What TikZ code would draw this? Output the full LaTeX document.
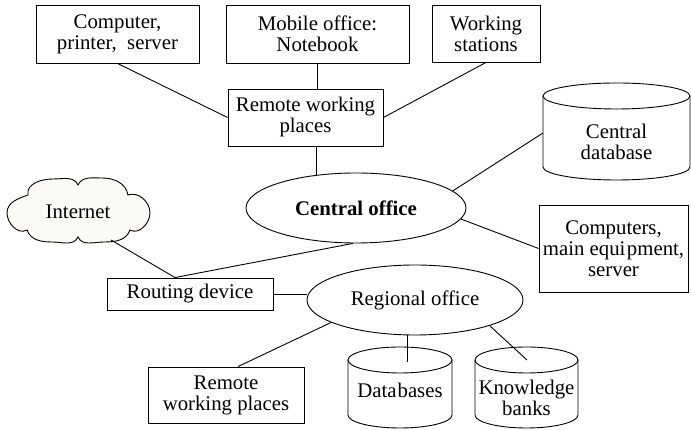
\documentclass[tikz,border=0pt]{standalone}
\usepackage{fontspec}
\setmainfont{Liberation Serif}
\usetikzlibrary{shapes.geometric,calc}
\begin{document}
\begin{tikzpicture}[x=1pt,y=1pt,line width=0.9pt,
  txt/.style={font=\fontsize{20.8}{21}\selectfont},
  box/.style={draw,rectangle,align=center,inner sep=0pt,txt},
  oval/.style={draw,ellipse,align=center,inner sep=0pt,txt},
  lbl/.style={align=center,inner sep=0pt,txt},
  conn/.style={line width=0.9pt}]
\useasboundingbox (0,0) rectangle (691,430);
% top boxes
\node[box,minimum width=163,minimum height=58] (b1) at (117.5,396) {Computer,\\printer,\ \ server};
\node[box,minimum width=183,minimum height=58] (b2) at (317.5,396) {Mobile office:\\Notebook};
\node[box,minimum width=108,minimum height=57] (b3) at (486,396.5) {Working\\stations};
\node[box,minimum width=155,minimum height=57] (rwp) at (305.5,312.5) {Remote working\\places};
% central
\node[oval,minimum width=220,minimum height=70,font=\fontsize{20.8}{21}\selectfont\bfseries] (central) at (356,222) {Central office};
% central database cylinder
\draw (543,334) -- (543,263) arc[start angle=180,end angle=360,x radius=73.5,y radius=13] -- (690,334);
\draw (616.5,334) ellipse[x radius=73.5,y radius=13];
\node[lbl] (cdb) at (616.5,288) {Central\\database};
\coordinate (cdbw) at (543,297);
% computers box
\node[box,minimum width=149,minimum height=87] (comp) at (613.5,181.5) {Computers,\\main equi\kern1.5pt pment,\\server};
% internet cloud
\draw[fill={rgb,255:red,252;green,250;blue,245}]
  (28,235) to[out=100,in=180] (53,251) to[out=0,in=115] (78,245)
  to[out=65,in=180] (102,252) to[out=0,in=100] (128,235)
  to[out=20,in=90] (150,217) to[out=-90,in=-30] (130,200)
  to[out=-110,in=0] (104,188) to[out=180,in=-65] (78,193)
  to[out=-115,in=0] (52,188) to[out=180,in=-70] (27,200)
  to[out=-150,in=-90] (7,217) to[out=90,in=200] cycle;
\node[lbl] (inet) at (78,218) {Internet};
\coordinate (inetc) at (111,190);
% routing
\node[box,minimum width=166,minimum height=32] (route) at (190,136) {Routing device};
% regional
\node[oval,minimum width=216,minimum height=70] (reg) at (415,130) {Regional office};
% remote bottom
\node[box,minimum width=156,minimum height=56] (rwp2) at (226,35) {Remote\\working places};
% databases cylinder
\draw (348,70) -- (348,15) arc[start angle=180,end angle=360,x radius=52,y radius=13] -- (452,70);
\draw (400,70) ellipse[x radius=52,y radius=13];
\node[lbl] (db) at (400,40) {Data\kern1pt bases};
\coordinate (dbin) at (407,68);
% knowledge banks cylinder
\draw (475,70) -- (475,15) arc[start angle=180,end angle=360,x radius=51.5,y radius=13] -- (578,70);
\draw (526.5,70) ellipse[x radius=51.5,y radius=13];
\node[lbl] (kb) at (526.5,32) {Knowledge\\banks};
\coordinate (kbin) at (527,70);
% connectors
\draw[conn] (b1.south) -- (rwp.west);
\draw[conn] (b2.south) -- (b2.south |- rwp.north);
\draw[conn] (b3.south) -- (rwp.east);
\draw[conn] (rwp.south -| central.140) -- (central.140);
\draw[conn] (central.10) -- (cdbw);
\draw[conn] (central.-6) -- (comp.west);
\coordinate (rtop) at ([xshift=-15pt]route.north);
\draw[conn] (inetc) -- (rtop);
\draw[conn] (central.-95) -- (rtop);
\draw[conn] (route.east) -- (reg.west |- route.east);
\draw[conn] (reg.195) -- ([xshift=12pt]rwp2.north);
\draw[conn] (reg.south -| dbin) -- (dbin);
\draw[conn] (reg.-19) -- (kbin);
\end{tikzpicture}
\end{document}
